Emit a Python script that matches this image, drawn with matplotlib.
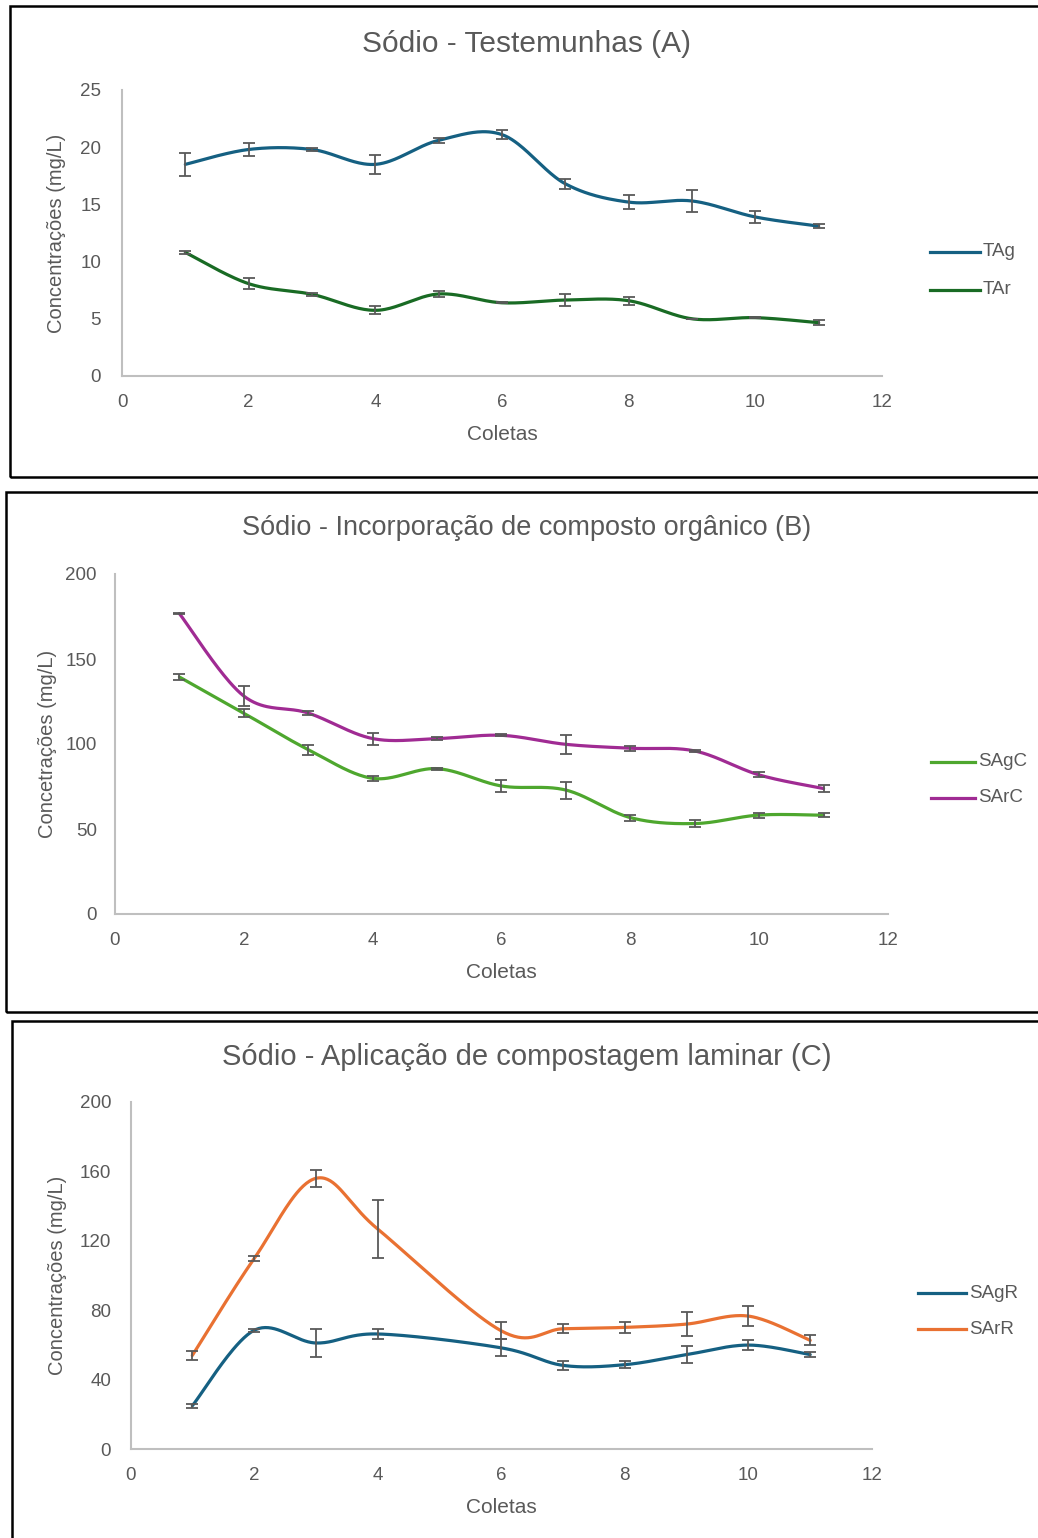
import numpy as np
import matplotlib
matplotlib.use("Agg")
import matplotlib.pyplot as plt
from matplotlib.patches import Rectangle
from matplotlib.lines import Line2D

plt.rcParams['font.family'] = ['Liberation Sans', 'DejaVu Sans']

# Painel A - testemunhas
coletas_a = [1, 2, 3, 4, 5, 6, 7, 8, 9, 10, 11]
tag = [18.5, 19.8, 19.8, 18.5, 20.6, 21.1, 16.8, 15.2, 15.3, 13.9, 13.1]
tag_err = [1.0, 0.6, 0.15, 0.8, 0.2, 0.4, 0.45, 0.6, 1.0, 0.55, 0.2]
tar = [10.8, 8.07, 7.14, 5.74, 7.17, 6.4, 6.64, 6.58, 5.0, 5.1, 4.66]
tar_err = [0.1, 0.5, 0.15, 0.35, 0.3, 0.05, 0.5, 0.35, 0.02, 0.05, 0.2]

# Painel B - composto organico
coletas_b = [1, 2, 3, 4, 5, 6, 7, 8, 9, 10, 11]
sagc = [139.4, 118.1, 96.7, 79.8, 85.5, 75.3, 72.9, 56.7, 53.2, 58.2, 58.1]
sagc_err = [1.5, 2.3, 3.0, 1.5, 0.5, 3.4, 5.0, 1.7, 2.3, 1.5, 1.3]
sarc = [176.7, 128.2, 118.2, 103.2, 103.2, 105.1, 99.8, 97.5, 95.9, 81.8, 73.8]
sarc_err = [0.5, 5.9, 1.0, 3.5, 1.0, 0.5, 5.5, 1.5, 0.5, 1.5, 2.2]

# Painel C - compostagem laminar (sem coleta 5)
coletas_c = [1, 2, 3, 4, 6, 7, 8, 9, 10, 11]
sagr = [24.9, 68.4, 61.1, 66.3, 58.3, 48.2, 48.6, 54.4, 59.9, 54.4]
sagr_err = [1.2, 1.0, 8.1, 2.9, 4.9, 2.5, 1.9, 5.0, 3.0, 1.5]
sarr = [53.9, 109.7, 156.0, 126.8, 68.1, 69.3, 70.1, 72.0, 76.6, 62.6]
sarr_err = [2.4, 1.5, 5.0, 16.5, 4.9, 2.6, 3.0, 6.9, 5.6, 2.9]

AZUL = '#156082'
VERDE_ESC = '#196B24'
VERDE = '#4EA72E'
ROXO = '#A02B93'
LARANJA = '#E97132'
CINZA = '#595959'

W, H = 1038, 1538


def suave(x, y, n=40):
    # curva suavizada tipo Excel (bezier com tangentes de Catmull-Rom)
    p = np.column_stack([x, y]).astype(float)
    pts = []
    for i in range(len(p) - 1):
        p0 = p[i - 1] if i > 0 else p[i]
        p1 = p[i]
        p2 = p[i + 1]
        p3 = p[i + 2] if i + 2 < len(p) else p[i + 1]
        c1 = p1 + (p2 - p0) / 6
        c2 = p2 - (p3 - p1) / 6
        t = np.linspace(0, 1, n)[:, None]
        seg = ((1 - t) ** 3) * p1 + 3 * ((1 - t) ** 2) * t * c1 + 3 * (1 - t) * t ** 2 * c2 + t ** 3 * p2
        pts.append(seg if i == 0 else seg[1:])
    pts = np.vstack(pts)
    return pts[:, 0], pts[:, 1]


def eixo(fig, left, right, top, bottom):
    return fig.add_axes([left / W, 1 - bottom / H, (right - left) / W, (bottom - top) / H])


def fx(px):
    return px / W


def fy(py):
    return 1 - py / H


def painel(ax, series, ymax, ystep, titulo, tsize, ylabel, title_y, label_x, ypad, leg):
    for x, y, err, cor, nome in series:
        xs, ys = suave(x, y)
        ax.plot(xs, ys, color=cor, lw=2.3, solid_capstyle='round', zorder=2)
        ax.errorbar(x, y, yerr=err, fmt='none', ecolor=CINZA, elinewidth=1.3,
                    capsize=4, capthick=1.3, zorder=3)
    ax.set_xlim(0, 12)
    ax.set_ylim(0, ymax)
    ax.set_xticks(range(0, 13, 2))
    ax.set_yticks(np.arange(0, ymax + 0.1, ystep))
    for s in ['top', 'right']:
        ax.spines[s].set_visible(False)
    for s in ['left', 'bottom']:
        ax.spines[s].set_color('#BFBFBF')
        ax.spines[s].set_linewidth(1.5)
    ax.tick_params(length=0, colors=CINZA, labelsize=13.5, pad=13)
    ax.tick_params(axis='y', pad=ypad)
    ax.set_xlabel('Coletas', color=CINZA, fontsize=15, labelpad=10)
    ax.set_ylabel(ylabel, color=CINZA, fontsize=14.5)
    ax.yaxis.set_label_coords(label_x, 0.5)
    fig.text(fx(527), fy(title_y), titulo, color=CINZA, fontsize=tsize,
             ha='center', va='center')
    # legenda desenhada a mao, a direita do grafico
    x0, x1, ys = leg
    for (x, y, err, cor, nome), yl in zip(series, ys):
        fig.add_artist(Line2D([fx(x0), fx(x1)], [fy(yl), fy(yl)], color=cor, lw=2.3))
        fig.text(fx(x1 + 3), fy(yl), nome, color=CINZA, fontsize=13.5,
                 ha='left', va='center')


fig = plt.figure(figsize=(W / 100, H / 100), dpi=100)

# molduras de cada grafico
for x0, y0, x1, y1 in [(10, 6, 1060, 477), (6, 492, 1060, 1012), (12, 1021, 1060, 1560)]:
    fig.patches.append(Rectangle((x0 / W, 1 - y1 / H), (x1 - x0) / W, (y1 - y0) / H,
                                 transform=fig.transFigure, fill=False,
                                 edgecolor='black', lw=1.8, zorder=0))

ax_a = eixo(fig, 122, 882, 90, 376)
painel(ax_a, [(coletas_a, tag, tag_err, AZUL, 'TAg'),
              (coletas_a, tar, tar_err, VERDE_ESC, 'TAr')],
       25, 5, 'Sódio - Testemunhas (A)', 21.5, 'Concentrações (mg/L)', 44, -0.074, 15,
       (930, 980, [252, 290]))

ax_b = eixo(fig, 115, 888, 574, 914)
painel(ax_b, [(coletas_b, sagc, sagc_err, VERDE, 'SAgC'),
              (coletas_b, sarc, sarc_err, ROXO, 'SArC')],
       200, 50, 'Sódio - Incorporação de composto orgânico (B)', 19.5, 'Concetrações (mg/L)',
       528, -0.075, 13, (931, 975, [762, 798]))

ax_c = eixo(fig, 130.5, 872, 1102, 1449)
painel(ax_c, [(coletas_c, sagr, sagr_err, AZUL, 'SAgR'),
              (coletas_c, sarr, sarr_err, LARANJA, 'SArR')],
       200, 40, 'Sódio - Aplicação de compostagem laminar (C)', 21, 'Concentrações (mg/L)',
       1057, -0.086, 14, (918, 966, [1293, 1329]))

fig.savefig('out.png', dpi=100)
